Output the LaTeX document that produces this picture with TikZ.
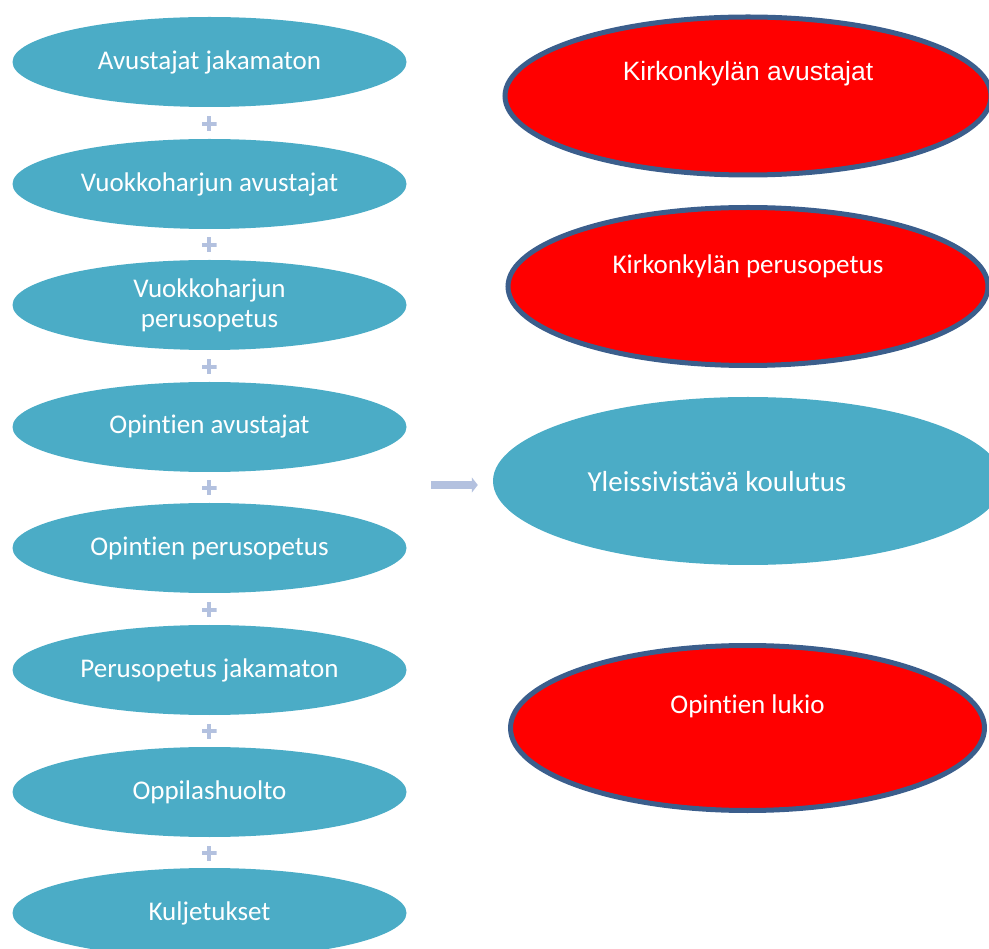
\documentclass[tikz,border=0pt]{standalone}
\usepackage{fontspec}
\setmainfont{Carlito}[Ligatures=NoCommon]
\newfontfamily\arialfont{Liberation Sans}
\usetikzlibrary{arrows.meta,shapes.geometric,positioning}
\definecolor{tealfill}{HTML}{4BACC6}
\definecolor{redfill}{HTML}{FF0000}
\definecolor{redline}{HTML}{3B5E8C}
\definecolor{plusgrey}{HTML}{B3C1DF}
\tikzset{style={>={Triangle[length=6pt,width=15pt]}}}
\tikzset{part/.style={ellipse,fill=tealfill,text=white,minimum width=394pt,minimum height=90pt,inner sep=0pt,align=center,font=\fontsize{27}{30}\selectfont}}
\tikzset{total/.style={ellipse,fill=tealfill,minimum width=510pt,minimum height=168pt,inner sep=0pt}}
\tikzset{unit/.style={ellipse,fill=redfill,draw=redline,line width=5pt,inner sep=0pt}}
\tikzset{unittext/.style={text=white,inner sep=0pt,font=\fontsize{27}{30}\selectfont}}
\tikzset{plus/.style={minimum size=15pt,inner sep=0pt,path picture={
    \fill[plusgrey] ([xshift=-7.5pt,yshift=-2pt]path picture bounding box.center) rectangle +(15pt,4pt);
    \fill[plusgrey] ([xshift=-2pt,yshift=-7.5pt]path picture bounding box.center) rectangle +(4pt,15pt);}}}
\tikzset{flow/.style={->,draw=plusgrey,line width=8pt,shorten >=15pt}}

\begin{document}
\begin{tikzpicture}[x=1pt,y=-1pt]
    \clip (0,0) rectangle (989,949);

    % parts on the left
    \node[part] (avj) at (209.5, 62)  {Avustajat jakamaton};
    \node[part] (vha) at (209.5, 184) {Vuokkoharjun avustajat};
    \node[part] (vhp) at (209.5, 305) {Vuokkoharjun\\perusopetus};
    \node[part] (opa) at (209.5, 427) {Opintien avustajat};
    \node[part] (opp) at (209.5, 548) {Opintien perusopetus};
    \node[part] (ppj) at (209.5, 670) {Perusopetus jakamaton};
    \node[part] (ohu) at (209.5, 792) {Oppilashuolto};
    \node[part] (kul) at (209.5, 913) {Kuljetukset};

    \node[plus] (p1) at (209, 124) {};
    \node[plus] (p2) at (209, 245) {};
    \node[plus] (p3) at (209, 367) {};
    \node[plus] (p4) at (209, 488) {};
    \node[plus] (p5) at (209, 610) {};
    \node[plus] (p6) at (209, 731) {};
    \node[plus] (p7) at (209, 853) {};

    % units on the right
    \node[unit,minimum width=486pt,minimum height=158pt] (kka) at (748, 96)  {};
    \node[unit,minimum width=480pt,minimum height=158pt] (kkp) at (748, 286.5) {};
    \node[total]                                         (yk)  at (748, 481) {};
    \node[unit,minimum width=474pt,minimum height=165pt] (olu) at (747.5, 728) {};

    \node[unittext,font=\arialfont\fontsize{26.5}{30}\selectfont] (kkat) at ([yshift=22pt]kka.center) {Kirkonkylän avustajat};
    \node[unittext] (kkpt) at ([yshift=20pt]kkp.center) {Kirkonkylän perusopetus};
    \node[unittext,font=\fontsize{29}{34}\selectfont] (ykt) at ([xshift=-31pt,yshift=-1pt]yk.center) {Yleissivistävä koulutus};
    \node[unittext] (olut) at ([yshift=22pt]olu.center) {Opintien lukio};

    \coordinate (arr) at (431, 485);
    \draw[flow] (arr) -- (arr -| yk.west);
\end{tikzpicture}
\end{document}
